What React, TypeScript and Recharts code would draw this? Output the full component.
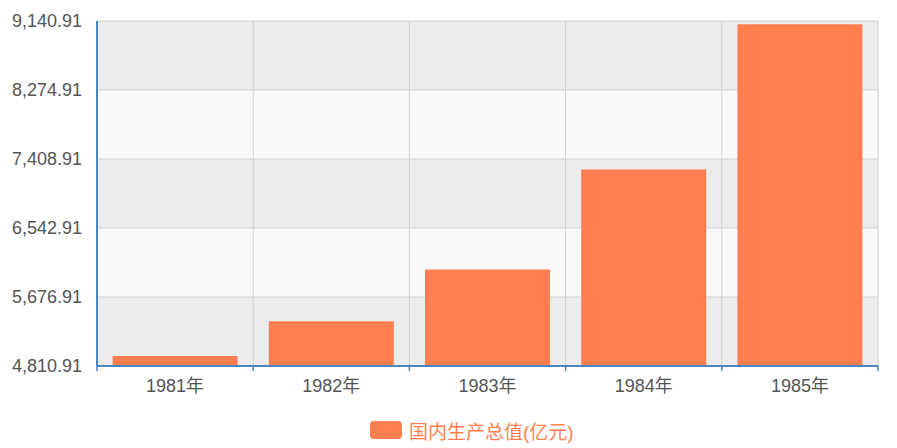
import { Bar, BarChart, CartesianGrid, Legend, XAxis, YAxis } from "recharts";

const years = ["1981年", "1982年", "1983年", "1984年", "1985年"];
const gdp = [4935.8, 5373.4, 6020.9, 7278.5, 9098.9];
const yTicks = [4810.91, 5676.91, 6542.91, 7408.91, 8274.91, 9140.91];
const seriesName = "国内生产总值(亿元)";

const data = years.map((year, i) => ({ year, gdp: gdp[i] }));

const AXIS_BLUE = "#4a86c0";
const BAR_COLOR = "#ff7f50";
const FONT = "'Liberation Sans', 'Noto Sans CJK SC', sans-serif";

function CategoryTick(props: any) {
  const { x, y, payload, width, visibleTicksCount, index } = props;
  const band = width / visibleTicksCount;
  const top = y - 8;
  return (
    <g>
      <line x1={x - band / 2} x2={x - band / 2} y1={top} y2={top + 5} stroke={AXIS_BLUE} strokeWidth={1.5} />
      {index === visibleTicksCount - 1 && (
        <line x1={x + band / 2} x2={x + band / 2} y1={top} y2={top + 5} stroke={AXIS_BLUE} strokeWidth={1.5} />
      )}
      <text x={x} y={y + 18} textAnchor="middle" fill="#555" fontSize={18} fontFamily={FONT}>
        {payload.value}
      </text>
    </g>
  );
}

function LegendContent() {
  return (
    <div style={{ display: "flex", alignItems: "center", height: 36, paddingLeft: 370, fontFamily: FONT }}>
      <span
        style={{ display: "inline-block", width: 32, height: 18, borderRadius: 4, background: BAR_COLOR, marginRight: 7 }}
      />
      <span style={{ color: BAR_COLOR, fontSize: 19 }}>{seriesName}</span>
    </div>
  );
}

export default function App() {
  return (
    <div style={{ position: "absolute", left: 0, top: 0, background: "#fff" }}>
      <BarChart width={897} height={448} data={data} margin={{ top: 21, right: 19, bottom: 0, left: 0 }} barCategoryGap="10%">
        <CartesianGrid
          stroke="#d0d0d0"
          horizontalFill={["#ececec", "#fafafa"]}
          fillOpacity={1}
          verticalCoordinatesGenerator={({ offset }: any) =>
            years.map((_, i) => offset.left + ((i + 1) * offset.width) / years.length)
          }
        />
        <XAxis
          dataKey="year"
          stroke={AXIS_BLUE}
          strokeWidth={2}
          tickLine={false}
          tick={<CategoryTick />}
          height={46}
          interval={0}
        />
        <YAxis
          domain={[yTicks[0], yTicks[yTicks.length - 1]]}
          ticks={yTicks}
          width={97}
          stroke={AXIS_BLUE}
          strokeWidth={2}
          tickLine={false}
          tickMargin={9}
          tick={{ fill: "#555", fontSize: 18, fontFamily: FONT }}
          tickFormatter={(v: number) => v.toLocaleString("en-US", { minimumFractionDigits: 2, maximumFractionDigits: 2 })}
        />
        <Legend verticalAlign="bottom" height={36} content={<LegendContent />} />
        <Bar dataKey="gdp" name={seriesName} fill={BAR_COLOR} isAnimationActive={false} />
      </BarChart>
    </div>
  );
}
